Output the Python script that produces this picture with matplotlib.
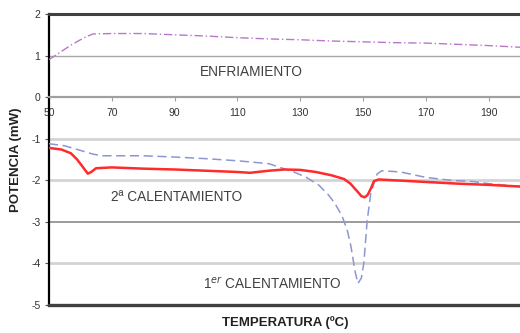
import matplotlib.pyplot as plt

plt.rcParams['font.family'] = ['Liberation Sans', 'DejaVu Sans']

# 1er calentamiento (blue dashed)
temp_cal1 = [50, 55, 60, 64, 67, 80, 90, 100, 110, 120, 124, 128, 132, 136, 139, 141,
             143.3, 145, 146.2, 147.5, 148.4, 149.5, 150.3, 151.3, 152.5, 154.5, 156,
             162, 170, 178, 185, 190, 200]
pot_cal1 = [-1.12, -1.17, -1.28, -1.37, -1.41, -1.41, -1.44, -1.48, -1.53, -1.6, -1.7,
            -1.8, -1.93, -2.12, -2.35, -2.55, -2.85, -3.2, -3.6, -4.2, -4.48, -4.35,
            -3.98, -3.0, -2.3, -1.85, -1.77, -1.8, -1.93, -2.0, -2.03, -2.08, -2.15]

# 2º calentamiento (red solid)
temp_cal2 = [50, 54, 57, 59, 61, 62.4, 63.5, 65, 70, 80, 90, 100, 110, 114, 120, 125,
             130, 135, 140, 144, 146, 148, 149.5, 150.5, 151.5, 152.5, 153.5, 155,
             160, 170, 180, 190, 200]
pot_cal2 = [-1.22, -1.26, -1.35, -1.5, -1.7, -1.84, -1.8, -1.71, -1.69, -1.72, -1.74,
            -1.77, -1.8, -1.82, -1.77, -1.74, -1.75, -1.8, -1.88, -1.97, -2.08, -2.25,
            -2.38, -2.41, -2.35, -2.2, -2.02, -1.98, -2.0, -2.04, -2.08, -2.11, -2.15]

# enfriamiento (purple dash-dot)
temp_enf = [50, 53, 57, 61, 64, 70, 80, 90, 100, 110, 120, 130, 140, 150, 160, 170,
            180, 190, 200]
pot_enf = [0.9, 1.05, 1.25, 1.42, 1.52, 1.53, 1.53, 1.5, 1.47, 1.43, 1.4, 1.38, 1.35,
           1.33, 1.31, 1.3, 1.27, 1.24, 1.2]

x_ticks = [50, 70, 90, 110, 130, 150, 170, 190]
y_ticks = [2, 1, 0, -1, -2, -3, -4, -5]

fig = plt.figure(figsize=(5.2, 3.33), dpi=100)
ax = fig.add_axes([0.094, 0.084, 0.906, 0.874])

# horizontal grid lines
grid_style = {1: ('#a8a8a8', 1.0), -1: ('#d4d4d4', 2.0), -2: ('#d4d4d4', 2.0),
              -3: ('#8a8a8a', 1.2), -4: ('#d4d4d4', 2.0)}
for yv, (c, lw) in grid_style.items():
    ax.axhline(yv, color=c, lw=lw, zorder=1)

ax.plot(temp_enf, pot_enf, color='#b878c8', lw=1.0, ls=(0, (6, 2, 1, 2)), zorder=3)
ax.plot(temp_cal1, pot_cal1, color='#8c96d2', lw=1.1, ls=(0, (6, 3)), zorder=3)
ax.plot(temp_cal2, pot_cal2, color='#ff2a2a', lw=1.8, zorder=4)

ax.set_xlim(50, 200)
ax.set_ylim(-5, 2)

ax.spines['right'].set_visible(False)
ax.spines['top'].set_color('#404040')
ax.spines['top'].set_linewidth(2.2)
ax.spines['left'].set_color('black')
ax.spines['left'].set_linewidth(1.6)
ax.spines['bottom'].set_position(('data', 0))
ax.spines['bottom'].set_color('#a0a0a0')
ax.spines['bottom'].set_linewidth(1.6)
ax.axhline(-5, color='#404040', lw=2.4, clip_on=False, zorder=5)

ax.set_xticks(x_ticks)
ax.set_xticklabels([str(v) for v in x_ticks])
ax.set_yticks(y_ticks)
ax.set_yticklabels([str(v) for v in y_ticks])
ax.tick_params(axis='x', direction='out', length=3, width=0.8, color='#a0a0a0',
               labelsize=7.5, labelcolor='#333333', pad=5)
ax.tick_params(axis='y', direction='out', length=3, width=0.8, color='#555555',
               labelsize=7.5, labelcolor='#333333', pad=3)

ax.text(114.3, 0.61, 'ENFRIAMIENTO', ha='center', va='center', fontsize=9.8, color='#404040')
ax.text(90.8, -2.41, '2ª CALENTAMIENTO', ha='center', va='center', fontsize=9.8, color='#404040')
ax.text(121.3, -4.5, '1$^{er}$ CALENTAMIENTO', ha='center', va='center', fontsize=9.8,
        color='#404040')

fig.text(0.548, 0.03, 'TEMPERATURA (ºC)', ha='center', va='center', fontsize=9.5,
         fontweight='bold', color='#222222')
fig.text(0.03, 0.52, 'POTENCIA (mW)', ha='center', va='center', rotation=90,
         fontsize=9.5, fontweight='bold', color='#222222')

fig.savefig('out.png', dpi=100)
